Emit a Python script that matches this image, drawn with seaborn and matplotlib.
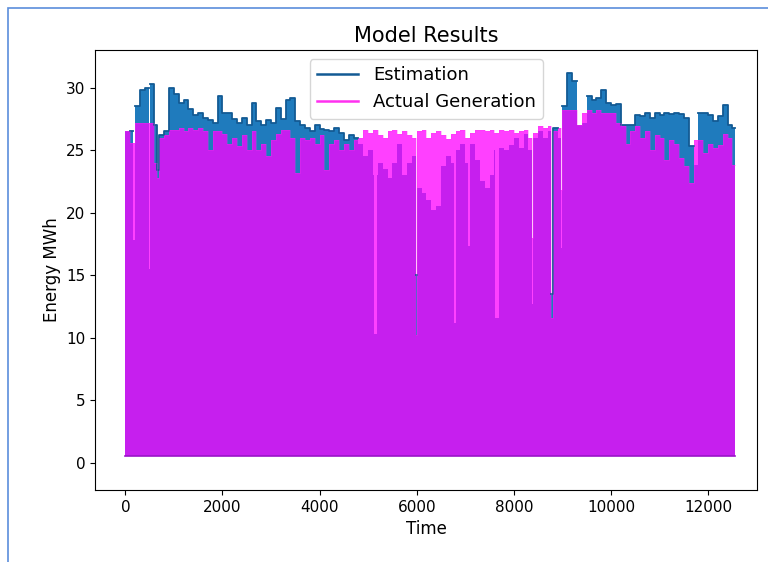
import numpy as np
import pandas as pd
import matplotlib
matplotlib.use("Agg")
import matplotlib.pyplot as plt
import seaborn as sns
from matplotlib.patches import Rectangle

# --- Data: daily peak level, one value per 100 time steps ---
time_step = 100
time_end = 12560
base_level = 0.5

estimation = [
    26.5, 26.5, 28.5, 29.8, 30.0, 30.3, 27.0, 26.2, 26.5, 30.0,
    29.5, 28.8, 29.0, 28.3, 27.8, 28.0, 27.6, 27.4, 27.2, 29.3,
    28.0, 28.0, 27.5, 27.2, 27.6, 27.0, 28.8, 27.3, 27.0, 27.4,
    27.2, 28.4, 27.5, 29.0, 29.2, 27.3, 27.0, 26.8, 26.5, 27.0,
    26.7, 26.6, 26.5, 26.8, 26.4, 25.8, 26.2, 26.0, 25.5, 24.5,
    25.0, 23.0, 24.0, 23.5, 22.8, 24.0, 25.5, 23.0, 24.0, 24.5,
    22.0, 21.6, 21.0, 20.2, 20.5, 23.7, 24.5, 24.0, 25.0, 25.5,
    24.0, 25.5, 24.2, 22.5, 22.0, 23.0, 25.0, 25.2, 25.0, 25.4,
    26.0, 25.2, 26.3, 25.0, 26.0, 26.5, 26.0, 26.5, 26.8, 26.0,
    28.5, 31.2, 30.5, 27.0, 27.2, 29.3, 29.0, 29.2, 29.8, 28.8,
    28.6, 28.7, 27.0, 27.0, 27.0, 27.8, 27.7, 28.0, 27.6, 28.0,
    27.8, 28.0, 27.9, 28.0, 27.9, 27.6, 25.3, 23.8, 28.0, 28.0,
    27.8, 27.3, 27.7, 28.6, 27.0, 26.8,
]

actual = [
    26.5, 25.6, 27.2, 27.2, 27.2, 27.2, 24.0, 26.0, 26.2, 26.6,
    26.6, 26.8, 26.5, 26.8, 26.6, 26.8, 26.5, 25.0, 26.5, 26.5,
    26.3, 25.5, 26.0, 25.3, 26.2, 25.0, 26.5, 25.0, 25.5, 24.5,
    25.8, 26.3, 26.6, 26.6, 26.0, 23.2, 26.0, 25.8, 26.0, 25.5,
    26.2, 23.4, 25.5, 25.8, 25.0, 25.5, 25.0, 25.8, 26.0, 26.6,
    26.4, 26.6, 26.2, 26.0, 26.5, 26.6, 26.3, 26.5, 26.2, 26.0,
    26.5, 26.6, 26.0, 26.4, 26.5, 26.2, 25.9, 26.3, 26.5, 26.6,
    26.0, 26.4, 26.6, 26.6, 26.5, 26.6, 26.4, 26.6, 26.5, 26.6,
    26.4, 26.5, 26.6, 26.0, 26.4, 26.9, 26.8, 26.9, 26.5, 26.8,
    28.2, 28.2, 28.2, 27.0, 28.0, 28.2, 28.0, 28.2, 28.0, 28.0,
    28.0, 27.2, 26.9, 25.5, 26.5, 26.9, 26.0, 26.5, 25.0, 26.2,
    26.0, 24.2, 25.8, 25.5, 24.4, 23.7, 22.4, 25.8, 25.8, 24.8,
    25.5, 25.2, 25.4, 26.3, 26.0, 23.8,
]

# narrow one-day drops
est_dip_time = [165, 490, 660, 5110, 5480, 5980, 6770, 7060, 7620, 8380, 8760, 8970]
est_dip_value = [17.8, 15.5, 23.4, 10.3, 19.2, 15.0, 11.2, 17.3, 11.6, 12.7, 13.5, 17.2]
act_dip_time = [660, 5980, 8380, 8760, 8970]
act_dip_value = [22.8, 10.2, 18.0, 11.6, 21.8]
dip_width = 70


def build_series(values, dip_time, dip_value):
    t = np.arange(len(values)) * time_step
    v = np.array(values, dtype=float)
    xs = list(t) + [time_end]
    ys = list(v) + [v[-1]]
    for td, vd in zip(dip_time, dip_value):
        idx = np.searchsorted(t, td + dip_width, side="right") - 1
        xs += [td, td + dip_width]
        ys += [vd, v[idx]]
    df = pd.DataFrame({"time": xs, "energy": ys})
    return df.sort_values("time", kind="stable").reset_index(drop=True)


est_df = build_series(estimation, est_dip_time, est_dip_value)
act_df = build_series(actual, act_dip_time, act_dip_value)

# outline of the estimation only where it sits above the actual generation
pos = np.searchsorted(act_df["time"].values, est_df["time"].values, side="right") - 1
act_at = act_df["energy"].values[pos]
visible = est_df["energy"].values > act_at
rows = []
seg = 0
n = len(est_df)
i = 0
while i < n - 1:
    if visible[i]:
        j = i
        while j + 1 < n - 1 and visible[j + 1]:
            j += 1
        for k in range(i, j + 1):
            rows.append((seg, est_df["time"].iat[k], est_df["energy"].iat[k]))
        rows.append((seg, est_df["time"].iat[j + 1], est_df["energy"].iat[j]))
        seg += 1
        i = j + 1
    else:
        i += 1
est_edge = pd.DataFrame(rows, columns=["seg", "time", "energy"])

# --- Plot ---
fig = plt.figure(figsize=(7.68, 5.62), dpi=100)
ax = fig.add_axes([0.124, 0.128, 0.862, 0.783])

ax.fill_between(est_df["time"], base_level, est_df["energy"], step="post",
                color="#1f7bbd", linewidth=0, zorder=2)
ax.fill_between(act_df["time"], base_level, act_df["energy"], step="post",
                color="magenta", alpha=0.75, linewidth=0, zorder=3)
sns.lineplot(data=est_edge, x="time", y="energy", units="seg", ax=ax, estimator=None,
             sort=False, drawstyle="steps-post", color="#135a94", linewidth=1.3,
             label="Estimation", zorder=4)
sns.lineplot(data=act_df, x="time", y="energy", ax=ax, estimator=None, sort=False,
             drawstyle="steps-post", color="#ff30f0", alpha=0.4, linewidth=0.5,
             label="Actual Generation", zorder=4)
ax.plot([0, time_end], [base_level, base_level], color="#9a14c8", linewidth=1.2, zorder=5)

ax.set_xlim(-620, 13010)
ax.set_ylim(-2.2, 33.0)
ax.set_xticks(range(0, 12001, 2000))
ax.set_yticks(range(0, 31, 5))
ax.tick_params(labelsize=11)
ax.set_title("Model Results", fontsize=15)
ax.set_xlabel("Time", fontsize=12)
ax.set_ylabel("Energy MWh", fontsize=12)

handles, labels = ax.get_legend_handles_labels()
uniq = dict(zip(labels, handles))
leg = ax.legend(list(uniq.values()), list(uniq.keys()), loc="upper center",
                fontsize=13, handlelength=2.3)
for h in leg.get_lines():
    h.set_linewidth(1.8)
    h.set_alpha(1.0)

# screenshot frame
fig.patches.append(Rectangle((0.011, -0.05), 1.2, 1.036, transform=fig.transFigure,
                             fill=False, edgecolor="#5b8ddb", linewidth=1.2))

plt.savefig("out.png", dpi=100)
